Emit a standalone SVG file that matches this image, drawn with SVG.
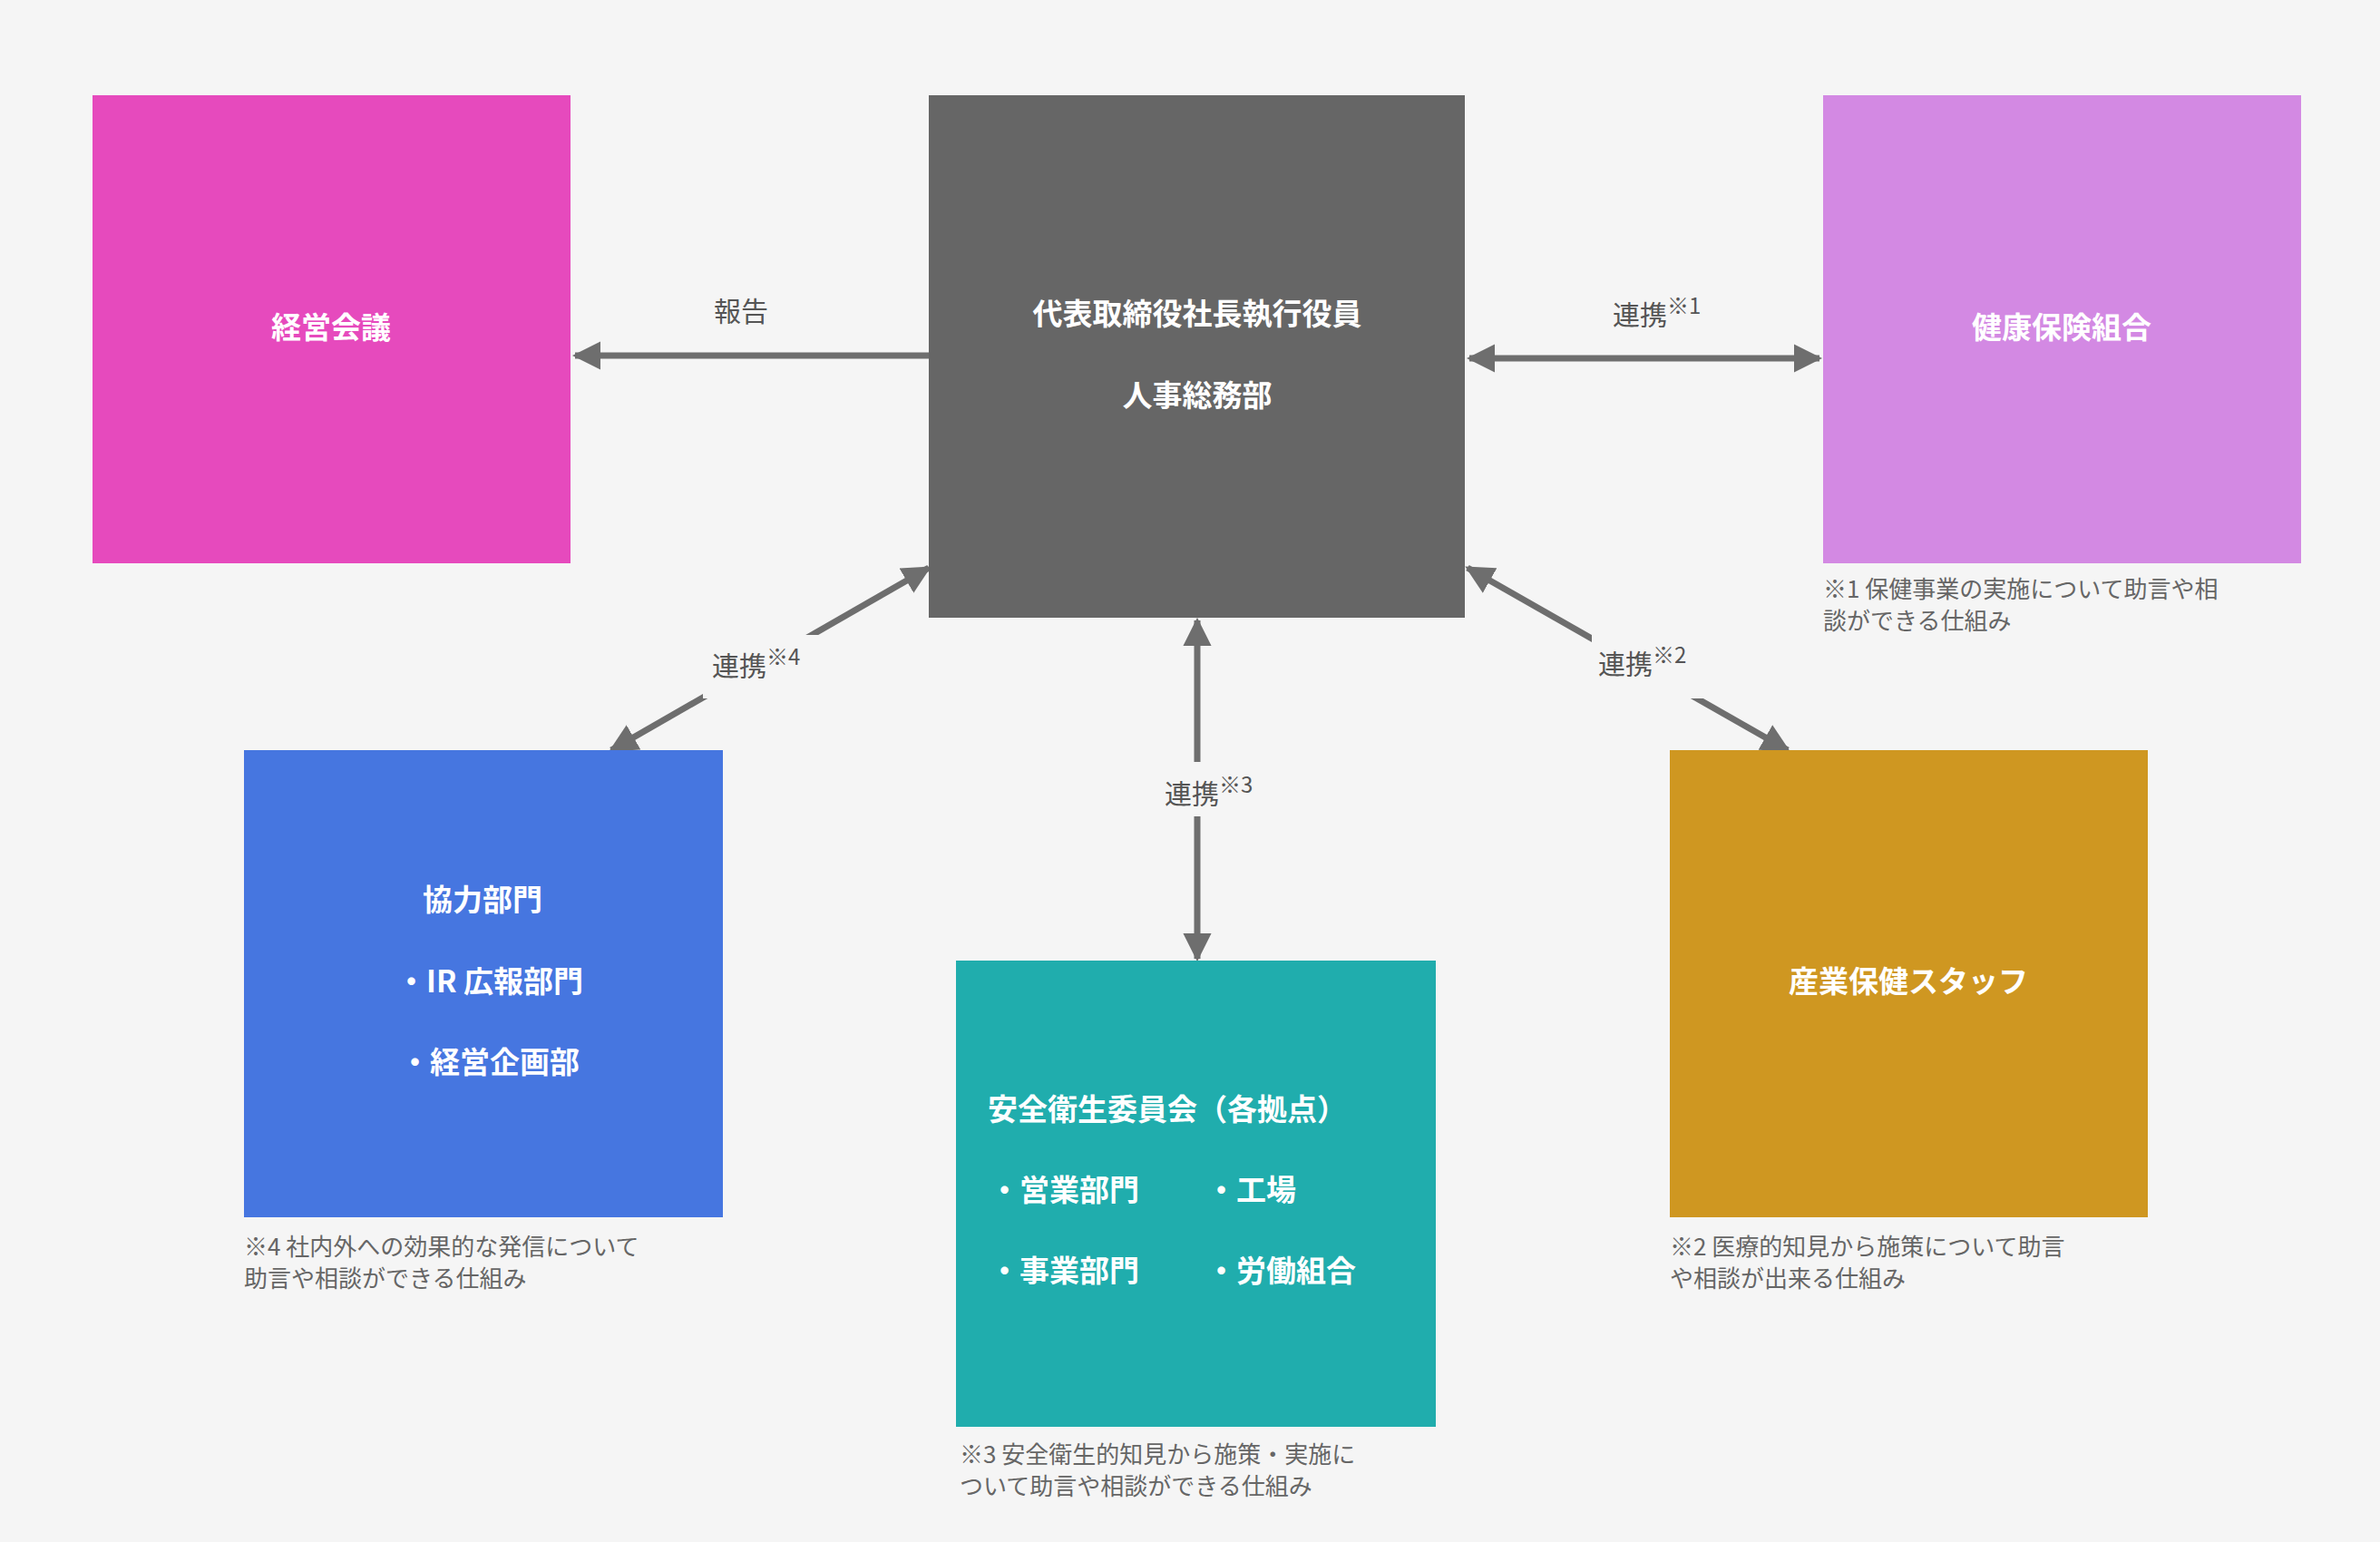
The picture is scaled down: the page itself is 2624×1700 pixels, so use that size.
<svg xmlns="http://www.w3.org/2000/svg" width="2624" height="1700" viewBox="0 0 2624 1700">
<style>
text{font-family:"Noto Sans CJK JP","Noto Sans",sans-serif}
.t{fill:#fff;font-size:33px;font-weight:bold}
.n{fill:#666;font-size:26px}
.l{fill:#555;font-size:30px}
.s{font-size:24px}
.c{stroke:#6e6e6e;stroke-width:7;fill:none}
</style>
<defs>
<marker id="a" viewBox="0 0 10 10" refX="9" refY="5" markerWidth="4.5" markerHeight="4.5" orient="auto-start-reverse" markerUnits="strokeWidth"><path d="M0,0 L10,5 L0,10 Z" fill="#6e6e6e"/></marker>
</defs>
<rect width="2624" height="1700" fill="#f5f5f5"/>
<g id="connectors">
<line class="c" x1="1024" y1="392" x2="634" y2="392" marker-end="url(#a)"/>
<line class="c" x1="1620" y1="395" x2="2006" y2="395" marker-start="url(#a)" marker-end="url(#a)"/>
<line class="c" x1="1024" y1="626" x2="674" y2="827" marker-start="url(#a)" marker-end="url(#a)"/>
<line class="c" x1="1320" y1="684" x2="1320" y2="1057" marker-start="url(#a)" marker-end="url(#a)"/>
<line class="c" x1="1618" y1="626" x2="1971" y2="827" marker-start="url(#a)" marker-end="url(#a)"/>
<rect x="775" y="700" width="134" height="70" fill="#f5f5f5"/>
<rect x="1270" y="840" width="120" height="60" fill="#f5f5f5"/>
<rect x="1755" y="700" width="135" height="70" fill="#f5f5f5"/>
<text class="l" x="817" y="354" text-anchor="middle">報告</text>
<text class="l" x="1778" y="358">連携<tspan class="s" dy="-12">※1</tspan></text>
<text class="l" x="785" y="745">連携<tspan class="s" dy="-12">※4</tspan></text>
<text class="l" x="1284" y="886">連携<tspan class="s" dy="-12">※3</tspan></text>
<text class="l" x="1762" y="743">連携<tspan class="s" dy="-12">※2</tspan></text>
</g>
<g id="keiei"><rect x="102" y="105" width="527" height="516" fill="#e64abd"/><text class="t" x="365" y="373" text-anchor="middle">経営会議</text></g>
<g id="center"><rect x="1024" y="105" width="591" height="576" fill="#666666"/><text class="t" x="1320" y="358" text-anchor="middle">代表取締役社長執行役員</text><text class="t" x="1320" y="448" text-anchor="middle">人事総務部</text></g>
<g id="kenpo"><rect x="2010" y="105" width="527" height="516" fill="#d389e3"/><text class="t" x="2273" y="373" text-anchor="middle">健康保険組合</text>
<text class="n" x="2010" y="659">※1  保健事業の実施について助言や相</text><text class="n" x="2010" y="694">談ができる仕組み</text></g>
<g id="kyoryoku"><rect x="269" y="827" width="528" height="515" fill="#4676e0"/><text class="t" x="532" y="1004" text-anchor="middle">協力部門</text><text class="t" x="540" y="1094" text-anchor="middle">・IR 広報部門</text><text class="t" x="540" y="1183" text-anchor="middle">・経営企画部</text>
<text class="n" x="269" y="1384">※4  社内外への効果的な発信について</text><text class="n" x="269" y="1419">助言や相談ができる仕組み</text></g>
<g id="anzen"><rect x="1054" y="1059" width="529" height="514" fill="#20adad"/><text class="t" x="1089" y="1235">安全衛生委員会（各拠点）</text>
<text class="t" x="1091" y="1324">・営業部門</text><text class="t" x="1330" y="1324">・工場</text>
<text class="t" x="1091" y="1413">・事業部門</text><text class="t" x="1330" y="1413">・労働組合</text>
<text class="n" x="1058" y="1613">※3  安全衛生的知見から施策・実施に</text><text class="n" x="1058" y="1648">ついて助言や相談ができる仕組み</text></g>
<g id="sangyo"><rect x="1841" y="827" width="527" height="515" fill="#cf9721"/><text class="t" x="2104" y="1094" text-anchor="middle">産業保健スタッフ</text>
<text class="n" x="1841" y="1384">※2  医療的知見から施策について助言</text><text class="n" x="1841" y="1419">や相談が出来る仕組み</text></g>
</svg>
